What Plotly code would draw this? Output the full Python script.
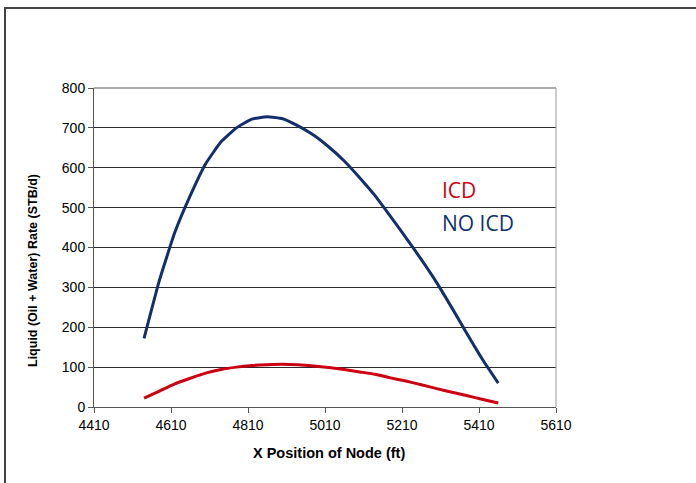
import plotly.graph_objects as go

x_nodes = [4540, 4580, 4620, 4660, 4700, 4740, 4780, 4820, 4860, 4900, 4940, 4980,
           5020, 5060, 5100, 5140, 5180, 5220, 5260, 5300, 5340, 5380, 5420, 5460]
no_icd = [172, 318, 438, 530, 610, 665, 700, 722, 728, 723, 705, 682,
          652, 617, 575, 530, 478, 425, 370, 312, 248, 182, 118, 60]
icd = [22, 40, 58, 72, 85, 94, 100, 104, 106, 107, 106, 103,
       99, 94, 88, 82, 73, 65, 56, 46, 37, 28, 19, 10]
x_ticks = [4410, 4610, 4810, 5010, 5210, 5410, 5610]
y_ticks = [0, 100, 200, 300, 400, 500, 600, 700, 800]

NAVY = "#132f6b"
RED = "#cc0010"

W, H = 696, 483
L, R, T, B = 94, 140, 88, 76
pw, ph = W - L - R, H - T - B


def px(xp):
    return (xp - L) / pw


def py(yp):
    return (H - B - yp) / ph


fig = go.Figure()
fig.add_trace(go.Scatter(x=x_nodes, y=no_icd, mode="lines", name="NO ICD",
                         line=dict(color=NAVY, width=3, shape="spline", smoothing=0.4)))
fig.add_trace(go.Scatter(x=x_nodes, y=icd, mode="lines", name="ICD",
                         line=dict(color=RED, width=3, shape="spline", smoothing=0.4)))

tickfont = dict(family="Liberation Sans, Arial", size=14, color="#000")

fig.update_layout(
    width=W, height=H,
    margin=dict(l=L, r=R, t=T, b=B),
    paper_bgcolor="white", plot_bgcolor="white",
    showlegend=False,
    xaxis=dict(range=[4410, 5610], tickmode="array", tickvals=x_ticks,
               ticktext=[str(v) for v in x_ticks],
               showgrid=False, zeroline=False, showline=True, linecolor="#555", linewidth=1,
               ticks="outside", ticklen=5, tickcolor="#555", tickfont=tickfont),
    yaxis=dict(range=[0, 800], tickmode="array", tickvals=y_ticks,
               ticktext=[str(v) for v in y_ticks],
               showgrid=True, gridcolor="#2a2a2a", gridwidth=1.2, zeroline=False,
               showline=True, linecolor="#555", linewidth=1,
               ticks="outside", ticklen=5, tickcolor="#555", tickfont=tickfont),
    annotations=[
        dict(x=5309, y=544, xref="x", yref="y", text="ICD", showarrow=False,
             xanchor="left", yanchor="middle",
             font=dict(family="Open Sans, Liberation Sans", size=21, color=RED)),
        dict(x=5309, y=461, xref="x", yref="y", text="NO ICD", showarrow=False,
             xanchor="left", yanchor="middle",
             font=dict(family="Open Sans, Liberation Sans", size=21, color=NAVY)),
        dict(x=px(329), y=py(453), xref="paper", yref="paper",
             text="<b>X Position of Node (ft)</b>", showarrow=False,
             xanchor="center", yanchor="middle",
             font=dict(family="Liberation Sans, Arial", size=14.5, color="#000")),
        dict(x=px(33), y=py(271), xref="paper", yref="paper",
             text="<b>Liquid (Oil + Water) Rate (STB/d)</b>", showarrow=False,
             textangle=-90, xanchor="center", yanchor="middle",
             font=dict(family="Liberation Sans, Arial", size=12.5, color="#000")),
    ],
    shapes=[
        dict(type="line", xref="paper", yref="paper", x0=0, x1=1, y0=1, y1=1,
             line=dict(color="#aaaaaa", width=2), layer="above"),
        dict(type="line", xref="paper", yref="paper", x0=1, x1=1, y0=0, y1=1,
             line=dict(color="#999999", width=1), layer="above"),
        dict(type="line", xref="paper", yref="paper", x0=px(4), x1=px(696), y0=py(8), y1=py(8),
             line=dict(color="#444", width=2), layer="above"),
        dict(type="line", xref="paper", yref="paper", x0=px(5), x1=px(5), y0=py(8), y1=py(483),
             line=dict(color="#444", width=2), layer="above"),
    ],
)

fig.write_html("out.html", config={"displayModeBar": False},
               post_script="document.body.style.margin='0';")
